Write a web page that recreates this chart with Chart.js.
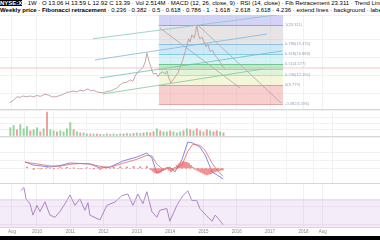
<!DOCTYPE html>
<html><head><meta charset="utf-8">
<script src="https://cdn.jsdelivr.net/npm/chart.js@4.4.1/dist/chart.umd.min.js"></script>
<style>
html,body{margin:0;padding:0;background:#fff;width:380px;height:240px;overflow:hidden;font-family:"Liberation Sans",Arial,sans-serif;}
#hdr{position:absolute;left:0;top:0;width:380px;height:15px;font-size:6px;line-height:7px;color:#000;white-space:nowrap;overflow:hidden;}
.pane{position:absolute;left:0;}
.sep{position:absolute;left:0;width:380px;height:1px;background:#d6d6d6;}
#black{position:absolute;left:0;top:236px;width:380px;height:4px;background:#000;}
</style></head><body>
<div id="hdr"><div><b style="background:#000;color:#fff">NYSE:X</b> · 1W · O 13.06 H 13.59 L 12.92 C 13.39 · Vol 2.514M · MACD (12, 26, close, 9) · RSI (14, close) · Fib Retracement 23.311 · Trend Lines · Parallel Channel · 0.596</div>
<div><b>Weekly price · Fibonacci retracement</b> · 0.236 · 0.382 · 0.5 · 0.618 · 0.786 · 1 · 1.618 · 2.618 · 3.618 · 4.236 · extend lines · background · labels · prices · levels · reverse</div></div>
<canvas id="cP" class="pane" style="top:15px" width="380" height="95"></canvas>
<canvas id="cV" class="pane" style="top:110px" width="380" height="26"></canvas>
<canvas id="cM" class="pane" style="top:137px" width="380" height="46"></canvas>
<canvas id="cR" class="pane" style="top:183px" width="380" height="53"></canvas>
<div class="sep" style="top:109px"></div>
<div class="sep" style="top:136px"></div>
<div class="sep" style="top:183px"></div>
<div class="sep" style="top:227px"></div>
<div id="black"></div>
<script>
// ---- data ----
const tickVals=[2009.25,2010,2011,2012,2013,2014,2015,2016,2017,2018,2018.58];
const tickLabels=["Aug","2010","2011","2012","2013","2014","2015","2016","2017","2018","Aug"];

const priceYears=[2009.19,2009.30,2009.40,2009.50,2009.58,2009.70,2009.80,2009.88,2010.00,2010.10,2010.24,2010.35,2010.45,2010.54,2010.65,2010.80,2010.90,2010.99,2011.10,2011.20,2011.29,2011.40,2011.53,2011.62,2011.70,2011.80,2011.98,2012.10,2012.20,2012.28,2012.40,2012.50,2012.58,2012.70,2012.80,2012.88,2012.95,2013.03,2013.10,2013.18,2013.25,2013.30,2013.35,2013.39,2013.45,2013.50,2013.58,2013.63,2013.70,2013.78,2013.85,2013.90,2013.96,2014.02,2014.08,2014.15,2014.23,2014.30,2014.38,2014.45,2014.50,2014.55,2014.60,2014.65,2014.72,2014.76,2014.80,2014.85,2014.89,2014.95,2015.02,2015.08,2015.13,2015.20,2015.27,2015.35,2015.42,2015.50,2015.57,2015.65];
const priceVals=[5.9,6.5,7.2,7.1,7.4,7.2,7.4,7.2,7.5,7.3,7.8,7.6,7.2,7.2,7.4,7.8,8.2,8.3,8.5,8.3,8.7,8.5,9.0,8.5,8.7,8.3,8.1,8.4,8.5,8.7,9.2,9.9,10.3,10.5,11.0,10.7,11.9,12.8,13.2,13.7,15.0,17.0,15.5,14.6,13.2,12.3,12.5,11.7,12.5,12.8,12.3,13.0,11.4,10.3,11.0,11.7,12.5,13.9,15.5,17.3,18.6,20.2,19.5,21.1,20.4,21.7,23.3,21.1,20.2,20.6,19.5,18.4,19.0,17.3,17.7,16.4,15.9,15.0,14.1,13.4];
const lastPrice=13.67;

const fibStart=2013.66, fibEnd=2017.39;
const fibLevels=[25.5,23.3,19.04,16.8,14.56,13.44,12.1,9.86,5.6];
const fibLabels=["","1(23.311)","0.786(19.375)","0.618(16.883)","0.5(14.577)","","0.236(12.155)","0(9.779)","-0.382(5.596)"];

const trendA=[[2011.68,20.2],[2017.39,25.76]];
const trendB=[[2011.74,15.46],[2016.91,21.28]];
const trendC=[[2011.89,11.43],[2017.36,17.48]];
const trendD=[[2011.98,7.84],[2016.79,13.44]];
const downE=[[2013.69,22.63],[2016.10,9.19]];
const downF=[[2014.83,23.3],[2017.33,5.83]];

const volYears=[2009.2,2009.3,2009.4,2009.5,2009.6,2009.7,2009.8,2009.9,2010.0,2010.1,2010.2,2010.3,2010.4,2010.5,2010.6,2010.7,2010.8,2010.9,2011.0,2011.1,2011.2,2011.3,2011.4,2011.5,2011.6,2011.7,2011.8,2011.9,2012.0,2012.1,2012.2,2012.3,2012.4,2012.5,2012.6,2012.7,2012.8,2012.9,2013.0,2013.1,2013.2,2013.3,2013.4,2013.5,2013.6,2013.7,2013.8,2013.9,2014.0,2014.1,2014.2,2014.3,2014.4,2014.5,2014.6,2014.7,2014.8,2014.9,2015.0,2015.1,2015.2,2015.3,2015.4,2015.5,2015.6];
const volVals=[16,20,12,22,14,18,10,12,16,8,14,46,12,10,8,10,8,14,26,12,8,6,6,4,4,4,4,3,3,4,3,4,3,4,4,5,4,5,6,5,6,7,6,8,14,10,8,8,10,8,6,8,10,14,12,10,14,10,8,12,10,8,10,8,6];
const volUp=[1,1,0,1,1,1,0,1,1,0,1,0,1,1,0,1,1,1,1,0,1,0,1,1,0,1,0,0,1,1,0,1,1,1,0,1,1,0,1,1,0,1,0,0,1,0,1,1,0,1,1,1,0,1,0,1,0,0,1,0,1,0,0,1,0];

const macdYears=[2009.64,2009.88,2010.39,2010.69,2010.99,2011.29,2011.59,2011.89,2012.19,2012.58,2013.00,2013.30,2013.45,2013.60,2013.78,2013.99,2014.14,2014.35,2014.53,2014.68,2014.89,2015.05,2015.26,2015.41,2015.59];
const macdVals=[0.33,0.165,0.065,0.14,0.265,0.24,0.215,0.015,0.065,0.365,0.565,0.765,0.515,-0.235,-0.085,0.065,-0.185,0.415,1.315,1.265,1.065,0.665,-0.185,-0.335,-0.535];
const signalVals=[0.30,0.25,0.12,0.10,0.20,0.24,0.22,0.10,0.05,0.25,0.45,0.65,0.62,0.20,-0.05,0.00,-0.05,0.15,0.85,1.20,1.15,0.90,0.25,-0.10,-0.40];
const histYears=[2009.7,2009.9,2010.1,2010.3,2010.5,2010.7,2010.9,2011.1,2011.3,2011.5,2011.7,2011.9,2012.1,2012.3,2012.5,2012.7,2012.9,2013.1,2013.3,2013.42,2013.48,2013.54,2013.6,2013.66,2013.72,2013.78,2013.84,2013.9,2013.96,2014.02,2014.08,2014.14,2014.2,2014.26,2014.32,2014.38,2014.44,2014.5,2014.56,2014.62,2014.68,2014.74,2014.8,2014.86,2014.92,2014.98,2015.04,2015.1,2015.16,2015.22,2015.28,2015.34,2015.4,2015.46,2015.52,2015.58];
const histVals=[0.06,-0.06,-0.04,0.03,-0.03,0.04,0.05,0.02,-0.02,0.03,-0.04,-0.06,0.03,0.06,0.08,0.07,0.09,0.08,0.1,-0.08,-0.15,-0.22,-0.25,-0.24,-0.2,-0.12,-0.05,0.05,-0.1,-0.18,-0.12,0.05,0.15,0.22,0.28,0.33,0.32,0.3,0.25,0.15,0.06,-0.05,-0.1,-0.15,-0.2,-0.25,-0.3,-0.33,-0.3,-0.27,-0.22,-0.18,-0.15,-0.12,-0.1,-0.08];

const rsiYears=[2009.51,2009.61,2009.67,2009.79,2009.88,2010.00,2010.09,2010.24,2010.39,2010.54,2010.69,2010.84,2010.99,2011.14,2011.29,2011.44,2011.53,2011.59,2011.89,2012.10,2012.34,2012.55,2012.73,2012.88,2013.03,2013.18,2013.30,2013.45,2013.60,2013.69,2013.90,2013.99,2014.20,2014.38,2014.53,2014.65,2014.80,2014.89,2015.11,2015.26,2015.35,2015.44,2015.59];
const rsiVals=[84.3,89.5,71.5,63.8,45.8,61.2,51.5,66.9,45.8,42.3,51.5,63.8,77.7,61.2,71.5,53.5,65.4,45.8,38.2,61.2,66.5,76.6,79.2,61.2,79.2,63.8,82.8,51.5,42.3,53.5,56.2,36.2,61.2,76.6,84.3,68.9,68.9,56.2,43.8,36.2,45.8,40.8,30.5];
const rsiUpper=70, rsiLower=30;

// ---- helpers ----
const XMIN=2008.89, XMAX=2020.3;
const xy=(xs,ys)=>xs.map((v,i)=>({x:v,y:ys[i]}));
const seg=a=>a.map(p=>({x:p[0],y:p[1]}));
const gridCol='#f1f1f1';
function xScale(showLabels){
  return {type:'linear',min:XMIN,max:XMAX,offset:false,
    afterBuildTicks:s=>{s.ticks=tickVals.map(v=>({value:v}));},
    ticks:{display:showLabels,autoSkip:false,maxRotation:0,padding:2,color:'#8a8a8a',font:{size:4.5,family:'Liberation Sans'},callback:(v,i)=>tickLabels[i]},
    grid:{color:gridCol,drawTicks:false},border:{display:false}};
}
function yScale(min,max,step){
  return {type:'linear',min:min,max:max,ticks:{display:false,stepSize:step},grid:{color:gridCol,drawTicks:false},border:{display:false}};
}
const base={responsive:false,animation:false,events:[],layout:{padding:0},plugins:{legend:{display:false},tooltip:{enabled:false}},elements:{point:{radius:0}}};
Chart.defaults.font.family='Liberation Sans';

const bandColors=['rgba(150,150,235,0.42)','rgba(200,196,198,0.45)','rgba(160,210,240,0.5)','rgba(175,230,238,0.5)','rgba(120,215,150,0.5)','rgba(190,235,180,0.5)','rgba(235,238,185,0.55)','rgba(240,160,160,0.5)'];
const levelColors=['#8f8fd8','#8f8fc8','#7fb6e0','#6cc3d8','#5cc07f','#8fd48a','#cfd27a','#d98f8f','#d98f8f'];
const fibPlugin={id:'fib',
  beforeDatasetsDraw(chart){
    const {ctx,scales:{x,y},chartArea:ca}=chart;
    const x0=x.getPixelForValue(fibStart), x1=x.getPixelForValue(fibEnd);
    ctx.save();
    ctx.beginPath();ctx.rect(ca.left,ca.top,ca.width,ca.height);ctx.clip();
    for(let i=0;i<fibLevels.length-1;i++){
      const ya=y.getPixelForValue(fibLevels[i]), yb=y.getPixelForValue(fibLevels[i+1]);
      ctx.fillStyle=bandColors[i];ctx.fillRect(x0,ya,x1-x0,yb-ya);
    }
    for(let i=1;i<fibLevels.length;i++){
      const yy=Math.round(y.getPixelForValue(fibLevels[i]))+0.5;
      ctx.strokeStyle=levelColors[i];ctx.lineWidth=0.8;
      ctx.beginPath();ctx.moveTo(x0,yy);ctx.lineTo(x1,yy);ctx.stroke();
    }
    ctx.restore();
  },
  afterDatasetsDraw(chart){
    const {ctx,scales:{x,y}}=chart;
    const x1=x.getPixelForValue(fibEnd);
    ctx.save();ctx.font='4px "Liberation Sans"';ctx.textBaseline='middle';
    for(let i=0;i<fibLevels.length;i++){
      if(!fibLabels[i])continue;
      ctx.fillStyle='#96a0b4';
      ctx.fillText(fibLabels[i],x1+2,y.getPixelForValue(fibLevels[i]));
    }
    ctx.restore();
  }};

const lineDs=(data,color,w,extra)=>Object.assign({type:'line',data:data,borderColor:color,borderWidth:w,pointRadius:0,fill:false,tension:0},extra||{});

// ---- price ----
new Chart(document.getElementById('cP'),{type:'line',
  data:{datasets:[
    lineDs([{x:XMIN,y:lastPrice},{x:XMAX,y:lastPrice}],'#f2b8b8',0.8),
    lineDs(seg(trendA),'#86c9c0',0.8),
    lineDs(seg(trendB),'#7fb8dc',0.8),
    lineDs(seg(trendC),'#72bcbc',0.8),
    lineDs(seg(trendD),'#7cc99a',0.8),
    lineDs(seg(downE),'#a8a8a8',0.8),
    lineDs(seg(downF),'#a8a8a8',0.8),
    lineDs(xy(priceYears,priceVals),'#bf9c9c',0.9)
  ]},
  options:Object.assign({},base,{scales:{x:xScale(false),y:yScale(4.25,25.54,4)}}),
  plugins:[fibPlugin]});

// ---- volume ----
new Chart(document.getElementById('cV'),{type:'bar',
  data:{datasets:[{data:xy(volYears,volVals),barThickness:1.3,backgroundColor:volUp.map(u=>u?'rgba(100,200,115,0.7)':'rgba(232,115,115,0.7)')}]},
  options:Object.assign({},base,{scales:{x:xScale(false),y:yScale(0,50,12)}})});

// ---- MACD ----
new Chart(document.getElementById('cM'),{type:'bar',
  data:{datasets:[
    {type:'bar',data:xy(histYears,histVals),barThickness:1.4,backgroundColor:'rgba(235,95,95,0.7)'},
    lineDs([{x:2009.88,y:0},{x:2015.65,y:0}],'#e0a0a0',0.7,{borderDash:[2,2]}),
    lineDs(xy(macdYears,signalVals),'#e06a6a',0.8),
    lineDs(xy(macdYears,macdVals),'#6a6ad8',0.8)
  ]},
  options:Object.assign({},base,{scales:{x:xScale(false),y:yScale(-0.735,1.565,0.4)}})});

// ---- RSI ----
new Chart(document.getElementById('cR'),{type:'line',
  data:{datasets:[
    lineDs([{x:XMIN,y:rsiUpper},{x:XMAX,y:rsiUpper}],'#d8bde6',0.7),
    lineDs([{x:XMIN,y:rsiLower},{x:XMAX,y:rsiLower}],'#d8bde6',0.7,{fill:'-1',backgroundColor:'rgba(170,110,200,0.13)'}),
    lineDs(xy(rsiYears,rsiVals),'#9b6bb8',0.8)
  ]},
  options:Object.assign({},base,{scales:{x:xScale(true),y:yScale(27.6,96.7,20)}})});
</script>
</body></html>
